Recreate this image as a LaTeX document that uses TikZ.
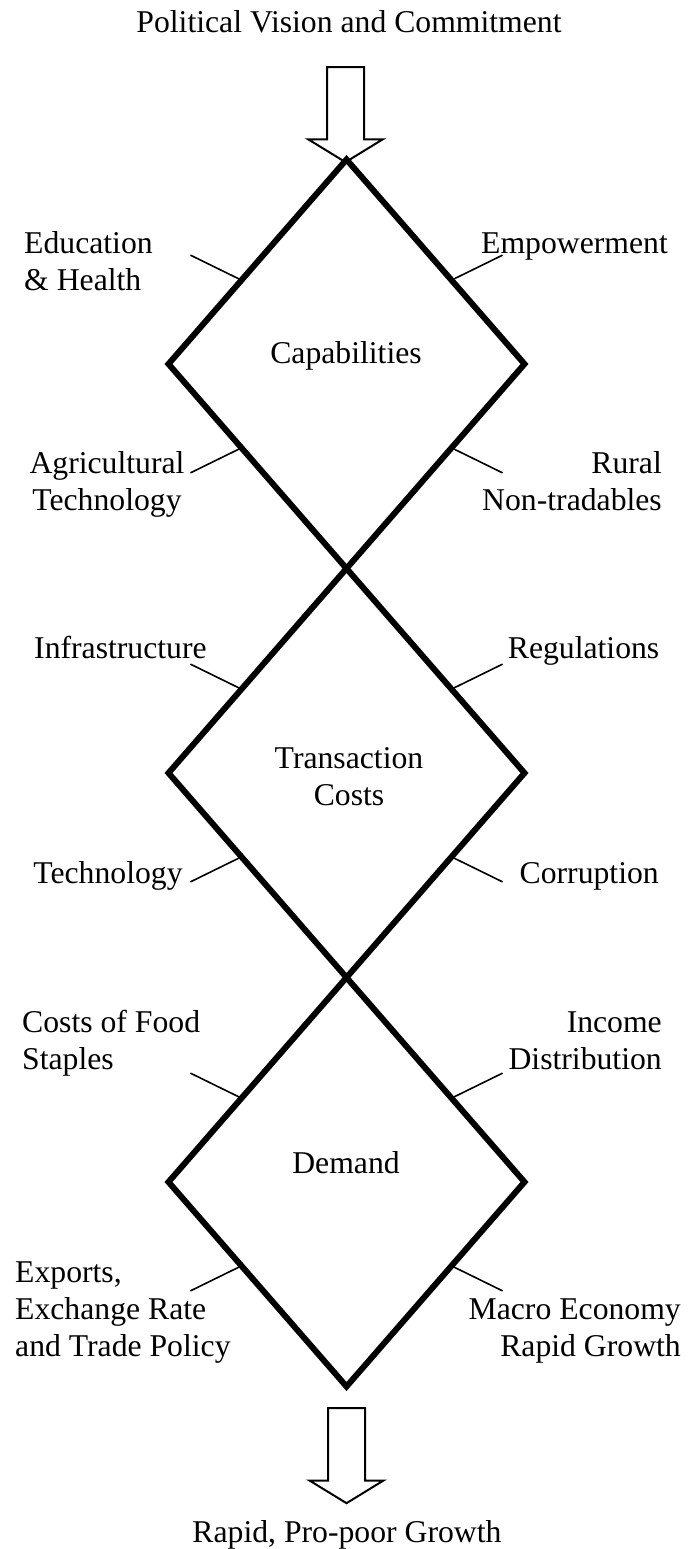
\documentclass[tikz,border=0pt]{standalone}
\usepackage{fontspec}
\setmainfont{Liberation Serif}
\usepackage{tikz}
\usetikzlibrary{shapes.geometric, shapes.arrows, calc, positioning}

\begin{document}
\begin{tikzpicture}[
    x=1pt, y=-1pt,
    stage/.style={draw, diamond, line width=6pt, minimum width=356pt, minimum height=409pt, inner sep=0pt, outer sep=0pt},
    factor/.style={font=\fontsize{31.7}{37}\selectfont, inner sep=0pt},
    tick/.style={line width=1.6pt},
    bigarrow/.style={draw, fill=white, line width=2pt, single arrow, shape border rotate=270, minimum height=95pt, minimum width=72pt, single arrow head extend=18.5pt, single arrow tip angle=117, single arrow head indent=0pt, inner sep=17.5pt}
]
    \useasboundingbox (0,0) rectangle (688,1549);

    % Input
    \node[factor, anchor=base] (vision) at (349,33) {Political Vision and Commitment};
    \node[bigarrow] (inarrow) at (345.5,109) {};

    % Capabilities
    \node[stage] (cap) at (346.5,364) {};
    \node[factor, anchor=base] (capl) at (346,363) {Capabilities};
    \node[factor, anchor=base west, align=left] (edu) at (24,290) {Education\\\& Health};
    \node[factor, anchor=base east, align=right] (emp) at (668,253) {Empowerment};
    \node[factor, anchor=base, align=center] (agri) at (107,510) {Agricultural\\Technology};
    \node[factor, anchor=base east, align=right] (rural) at (662,510) {Rural\\Non-tradables};
    \draw[tick] ($(cap.west)!0.41!(cap.north)$) -- ++(-51,-25);
    \draw[tick] ($(cap.east)!0.41!(cap.north)$) -- ++(51,-25);
    \draw[tick] ($(cap.west)!0.41!(cap.south)$) -- ++(-51,25);
    \draw[tick] ($(cap.east)!0.41!(cap.south)$) -- ++(51,25);

    % Transaction costs
    \node[stage] (tc) at (346.5,773) {};
    \node[factor, anchor=base, align=center] (tcl) at (349,805) {Transaction\\Costs};
    \node[factor, anchor=base west] (infra) at (34,658) {Infrastructure};
    \node[factor, anchor=base east] (regul) at (659.5,658) {Regulations};
    \node[factor, anchor=base] (tech) at (108,883) {Technology};
    \node[factor, anchor=base east] (corr) at (659,883) {Corruption};
    \draw[tick] ($(tc.west)!0.41!(tc.north)$) -- ++(-51,-25);
    \draw[tick] ($(tc.east)!0.41!(tc.north)$) -- ++(51,-25);
    \draw[tick] ($(tc.west)!0.41!(tc.south)$) -- ++(-51,25);
    \draw[tick] ($(tc.east)!0.41!(tc.south)$) -- ++(51,25);

    % Demand
    \node[stage] (dem) at (346.5,1182) {};
    \node[factor, anchor=base] (deml) at (346,1173) {Demand};
    \node[factor, anchor=base west, align=left] (food) at (22,1069) {Costs of Food\\Staples};
    \node[factor, anchor=base east, align=right] (income) at (662,1069) {Income\\Distribution};
    \node[factor, anchor=base west, align=left] (exports) at (15,1356) {Exports,\\Exchange Rate\\and Trade Policy};
    \node[factor, anchor=base east, align=right] (macro) at (681,1356) {Macro Economy\\Rapid Growth};
    \draw[tick] ($(dem.west)!0.41!(dem.north)$) -- ++(-51,-25);
    \draw[tick] ($(dem.east)!0.41!(dem.north)$) -- ++(51,-25);
    \draw[tick] ($(dem.west)!0.41!(dem.south)$) -- ++(-51,25);
    \draw[tick] ($(dem.east)!0.41!(dem.south)$) -- ++(51,25);

    % Outcome
    \node[bigarrow] (outarrow) at (346.5,1450) {};
    \node[factor, anchor=base] (growth) at (347,1542) {Rapid, Pro-poor Growth};
\end{tikzpicture}
\end{document}
